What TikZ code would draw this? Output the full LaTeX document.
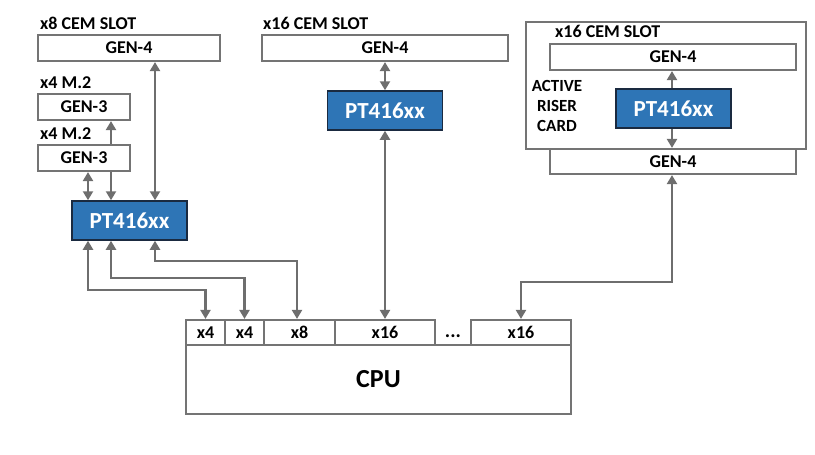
\documentclass[tikz,border=0pt]{standalone}
\usepackage{fontspec}
\setmainfont{Carlito}
\usetikzlibrary{arrows.meta,backgrounds}
\definecolor{linegray}{HTML}{6E6E6E}
\definecolor{boxgray}{HTML}{747474}
\definecolor{ptblue}{HTML}{2E75B6}
\definecolor{ptedge}{HTML}{1A2A40}
\begin{document}
\begin{tikzpicture}[x=1pt,y=-1pt,
  slotbox/.style={draw=boxgray,line width=2.2pt,fill=white,rectangle,inner sep=0pt,
    minimum height=26pt,font=\fontsize{18}{18}\selectfont\bfseries},
  chipbox/.style={draw=ptedge,line width=1.5pt,fill=ptblue,rectangle,inner sep=0pt,
    minimum width=115pt,minimum height=39pt,text=white,font=\fontsize{23}{23}\selectfont\bfseries},
  lbl/.style={anchor=base west,inner sep=0pt,font=\fontsize{18}{18}\selectfont\bfseries},
  link/.style={draw=linegray,line width=2.5pt,{Triangle[width=10pt,length=9pt]}-{Triangle[width=10pt,length=9pt]}},
  linkone/.style={draw=linegray,line width=2.5pt,-{Triangle[width=10pt,length=9pt]}}
]
\useasboundingbox (0,0) rectangle (815,455);

% left group
\node[lbl] (lab1) at (40,29) {x8 CEM SLOT};
\node[slotbox,minimum width=182pt] (gen4a) at (129,48) {GEN-4};
\node[lbl] (lab2) at (40,88) {x4 M.2};
\node[slotbox,minimum width=92pt] (gen3a) at (84,107) {GEN-3};
\node[lbl] (lab3) at (40,139) {x4 M.2};
\node[slotbox,minimum width=92pt] (gen3b) at (84,158) {GEN-3};
\node[chipbox] (pta) at (129.5,220.5) {PT416xx};

% middle group
\node[lbl] (lab4) at (263,29) {x16 CEM SLOT};
\node[slotbox,minimum width=246pt] (gen4b) at (385,48) {GEN-4};
\node[chipbox] (ptb) at (385,110.5) {PT416xx};

% right group (active riser card)
\node[draw=boxgray,line width=2.2pt,rectangle,inner sep=0pt,minimum width=280pt,minimum height=127pt] (riser) at (666,85.5) {};
\node[lbl] (lab5) at (555,37) {x16 CEM SLOT};
\node[slotbox,minimum width=246pt] (gen4c) at (673,57) {GEN-4};
\node[align=center,inner sep=0pt,font=\fontsize{17}{20}\selectfont\bfseries] (card) at (557,106) {ACTIVE\\RISER\\CARD};
\node[chipbox] (ptc) at (673.5,108.5) {PT416xx};
\node[slotbox,minimum width=246pt,minimum height=25pt] (gen4d) at (673,161.5) {GEN-4};

% CPU
\node[draw=boxgray,line width=2.2pt,rectangle,inner sep=0pt,minimum width=385pt,minimum height=69pt,
  font=\fontsize{26}{26}\selectfont\bfseries] (cpu) at (378.5,379.5) {CPU};
\node[slotbox,minimum width=39pt,minimum height=25pt] (p1) at (205.5,332.5) {x4};
\node[slotbox,minimum width=39pt,minimum height=25pt] (p2) at (244.5,332.5) {x4};
\node[slotbox,minimum width=71pt,minimum height=25pt] (p3) at (299.5,332.5) {x8};
\node[slotbox,minimum width=100pt,minimum height=25pt] (p4) at (385,332.5) {x16};
\node[inner sep=0pt,font=\fontsize{20}{20}\selectfont\bfseries] (dots) at (453,336) {...};
\node[slotbox,minimum width=100pt,minimum height=25pt] (p5) at (521,332.5) {x16};

% column and row coordinates
\coordinate (ca) at (88,0);
\coordinate (cb) at (111,0);
\coordinate (cc) at (155,0);
\coordinate (cd) at (297,0);
\coordinate (cr) at (672,0);
\coordinate (r1) at (0,290);
\coordinate (r2) at (0,278);
\coordinate (r3) at (0,261);
\coordinate (r4) at (0,282);

\begin{scope}[on background layer]
\draw[link] (cb |- gen3a.south) -- (cb |- pta.north);
\end{scope}
\draw[link] (ca |- gen3b.south) -- (ca |- pta.north);
\draw[link] (cc |- gen4a.south) -- (cc |- pta.north);

\draw[link] (ca |- pta.south) |- (r1 -| p1.north) -- (p1.north);
\draw[link] (cb |- pta.south) |- (r2 -| p2.north) -- (p2.north);
\draw[link] (cc |- pta.south) |- (r3 -| cd) -- (cd |- p3.north);

\draw[link] (gen4b.south) -- (ptb.north);
\draw[link] (ptb.south) -- (p4.north);

\draw[linkone] (cr |- ptc.north) -- (cr |- gen4c.south);
\draw[linkone] (cr |- ptc.south) -- (cr |- gen4d.north);
\draw[link] (cr |- gen4d.south) |- (r4 -| p5.north) -- (p5.north);
\end{tikzpicture}
\end{document}
